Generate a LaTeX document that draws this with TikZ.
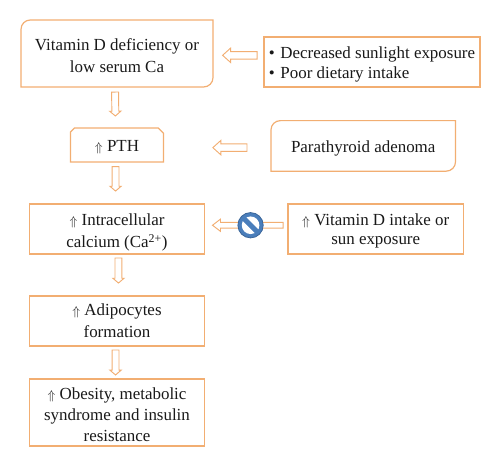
\documentclass[tikz,border=0pt]{standalone}
\usepackage{fontspec}
\setmainfont{Liberation Serif}
\usepackage{xcolor}
\usetikzlibrary{positioning,calc}
\definecolor{boxorange}{HTML}{F2AE72}
\definecolor{signblue}{HTML}{4A7EBB}
\definecolor{signdark}{HTML}{3A6599}
\newcommand{\upup}{\scalebox{0.8}{$\Uparrow$}}
\newcommand{\nudge}[1]{\rule{0pt}{#1pt}}

\begin{document}
\begin{tikzpicture}[font=\fontsize{12.7}{15.5}\selectfont, text=black!90,
  plainbox/.style={align=center, inner sep=0pt, outer sep=0pt},
  flowbox/.style={plainbox, draw=boxorange, line width=0.9pt, fill=white},
  cornerline/.style={draw=boxorange, line width=0.9pt},
  shaft/.store in=\shaftw, shaft=2.6pt,
  headw/.store in=\headwd, headw=5.2pt,
  headl/.store in=\headln, headl=6pt,
  gapa/.store in=\gapstart, gapa=4pt,
  gapb/.store in=\gapend, gapb=4pt,
  hollow/.style={cornerline, line width=0.7pt, fill=white, to path={
    ($(\tikztostart)!\gapstart!(\tikztotarget)!\shaftw!90:(\tikztotarget)$)
    -- ($(\tikztotarget)!\gapend+\headln!(\tikztostart)!\shaftw!-90:(\tikztostart)$)
    -- ($(\tikztotarget)!\gapend+\headln!(\tikztostart)!\headwd!-90:(\tikztostart)$)
    -- ($(\tikztotarget)!\gapend!(\tikztostart)$)
    -- ($(\tikztotarget)!\gapend+\headln!(\tikztostart)!\headwd!90:(\tikztostart)$)
    -- ($(\tikztotarget)!\gapend+\headln!(\tikztostart)!\shaftw!90:(\tikztostart)$)
    -- ($(\tikztostart)!\gapstart!(\tikztotarget)!\shaftw!-90:(\tikztotarget)$)
    -- cycle}},
  downarrow/.style={hollow, shaft=2.6pt, headw=4.2pt, headl=3.6pt},
  leftarrow/.style={hollow, shaft=2.8pt, headw=5.4pt, headl=6pt}]
\useasboundingbox (0,0) rectangle (375pt,-348.75pt);
% left column
\node[plainbox, minimum width=144pt, minimum height=50.25pt] (vitd) at (87.75pt,-40.1pt) {\nudge{12.2}Vitamin D deficiency or\\[1pt] low serum Ca};
\node[plainbox, minimum width=69.75pt, minimum height=25.5pt, below=30.75pt of vitd] (pth) {\nudge{12}\upup{} PTH};
\node[flowbox, minimum width=131.25pt, minimum height=37.5pt, below=31.5pt of pth] (calcium) {\nudge{14.7}\upup{} Intracellular\\[1pt] calcium (Ca\textsuperscript{2+})};
\node[flowbox, minimum width=131.25pt, minimum height=37.5pt, below=31.5pt of calcium] (adipo) {\upup{} Adipocytes\\[1.2pt] formation};
\node[flowbox, minimum width=131.25pt, minimum height=50.25pt, below=24.75pt of adipo] (obesity) {\nudge{12}\upup{} Obesity, metabolic\\ syndrome and insulin\\ resistance};
% right column
\node[flowbox, minimum width=162pt, minimum height=37.5pt, align=left, anchor=south west] (causes) at ($(vitd.south east)+(38.25pt,0)$) {\nudge{12.7}\textbullet\,\,Decreased sunlight exposure\\ \textbullet\,\,Poor dietary intake};
\node[plainbox, minimum width=138.4pt, minimum height=37.9pt, right=80.6pt of pth, yshift=-0.7pt] (adenoma) {\nudge{12}Parathyroid adenoma};
\node[flowbox, minimum width=131.6pt, minimum height=37.5pt, right=62.6pt of calcium] (intake) {\nudge{12}\upup{} Vitamin D intake or\\[-1pt] sun exposure};
% the two boxes with round corners on one diagonal, and the snipped one
\draw[cornerline] (vitd.north west) ++(0,-7pt) [rounded corners=7pt] -- (vitd.north west) [sharp corners] -- (vitd.north east) [rounded corners=7pt] -- (vitd.south east) [sharp corners] -- (vitd.south west) -- ++(0,7pt) -- cycle;
\draw[cornerline] (adenoma.north west) ++(0,-7pt) [rounded corners=7pt] -- (adenoma.north west) [sharp corners] -- (adenoma.north east) [rounded corners=7pt] -- (adenoma.south east) [sharp corners] -- (adenoma.south west) -- ++(0,7pt) -- cycle;
\draw[cornerline] (pth.south west) -- ++(0,22.5pt) -- ([xshift=3pt]pth.north west) -- ([xshift=-4pt]pth.north east) -- ([yshift=-4pt]pth.north east) -- (pth.south east) -- cycle;
% arrows
\draw[downarrow, gapa=3.8pt, gapb=9pt] ([xshift=-1.5pt]vitd.south) to ([xshift=-1.1pt]pth.north);
\draw[downarrow, gapa=3.5pt, gapb=9.7pt] ([xshift=-1.1pt]pth.south) to ([xshift=-1.1pt]calcium.north);
\draw[downarrow, gapa=3pt, gapb=9.7pt] ([xshift=1.1pt]calcium.south) to ([xshift=1.1pt]adipo.north);
\draw[downarrow, gapa=3pt, gapb=3pt] ([xshift=-1.1pt]adipo.south) to ([xshift=-1.1pt]obesity.north);
\draw[leftarrow, gapa=5.2pt, gapb=7.2pt] ([yshift=5pt]causes.west) to ([yshift=5pt]causes.west -| vitd.east);
\draw[leftarrow, gapa=18pt, gapb=37pt] ([yshift=-1.3pt]adenoma.west) to ([yshift=-1.3pt]adenoma.west -| pth.east);
\draw[leftarrow, shaft=2.2pt, headw=4.6pt, gapa=3.6pt, gapb=6pt] ([yshift=2.8pt]intake.west) to ([yshift=2.8pt]calcium.east);
% no-entry sign on the last arrow
\node[circle, fill=signblue, draw=signdark, line width=0.6pt, minimum size=19pt, inner sep=0pt, right=24.75pt of calcium.east, yshift=2.8pt] (block) {};
\begin{scope}
  \clip (block.center) circle (6.6pt);
  \fill[white, rotate around={-45:(block.center)}] ($(block.center)+(-10pt,2pt)$) rectangle ($(block.center)+(10pt,10pt)$);
  \fill[white, rotate around={-45:(block.center)}] ($(block.center)+(-10pt,-2pt)$) rectangle ($(block.center)+(10pt,-10pt)$);
\end{scope}
\end{tikzpicture}
\end{document}
